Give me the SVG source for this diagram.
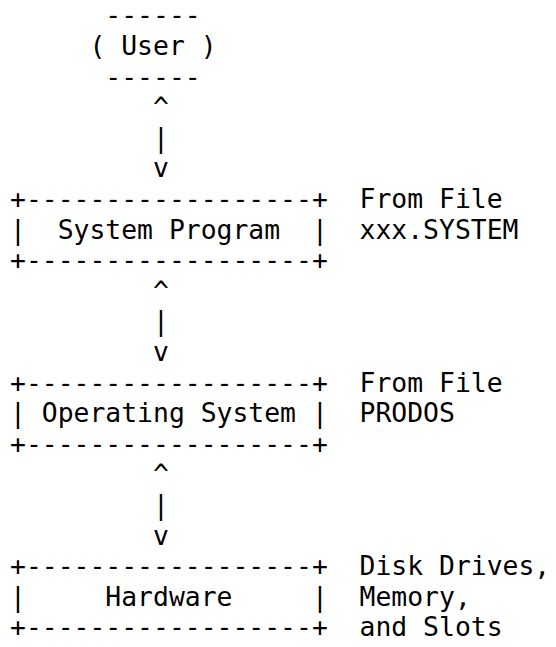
<svg xmlns="http://www.w3.org/2000/svg" width="556" height="647" viewBox="0 0 556 647">
<style>
text{font-family:"DejaVu Sans Mono","Liberation Mono",monospace;font-size:26.4px;fill:#000;white-space:pre}
</style>
<rect width="556" height="647" fill="#fff"/>
<g id="user">
<text x="10" y="24.4">      ------</text>
<text x="10" y="55">     ( User )</text>
<text x="10" y="85.6">      ------</text>
</g>
<g id="connectors">
<text x="10" y="116.2">         ^</text>
<text x="10" y="146.8">         |</text>
<text x="10" y="177.4">         v</text>
<text x="10" y="299.8">         ^</text>
<text x="10" y="330.4">         |</text>
<text x="10" y="361">         v</text>
<text x="10" y="483.4">         ^</text>
<text x="10" y="514">         |</text>
<text x="10" y="544.6">         v</text>
</g>
<g id="system-program">
<text x="10" y="208">+------------------+  From File</text>
<text x="10" y="238.6">|  System Program  |  xxx.SYSTEM</text>
<text x="10" y="269.2">+------------------+</text>
</g>
<g id="operating-system">
<text x="10" y="391.6">+------------------+  From File</text>
<text x="10" y="422.2">| Operating System |  PRODOS</text>
<text x="10" y="452.8">+------------------+</text>
</g>
<g id="hardware">
<text x="10" y="575.2">+------------------+  Disk Drives,</text>
<text x="10" y="605.8">|     Hardware     |  Memory,</text>
<text x="10" y="636.4">+------------------+  and Slots</text>
</g>
</svg>
